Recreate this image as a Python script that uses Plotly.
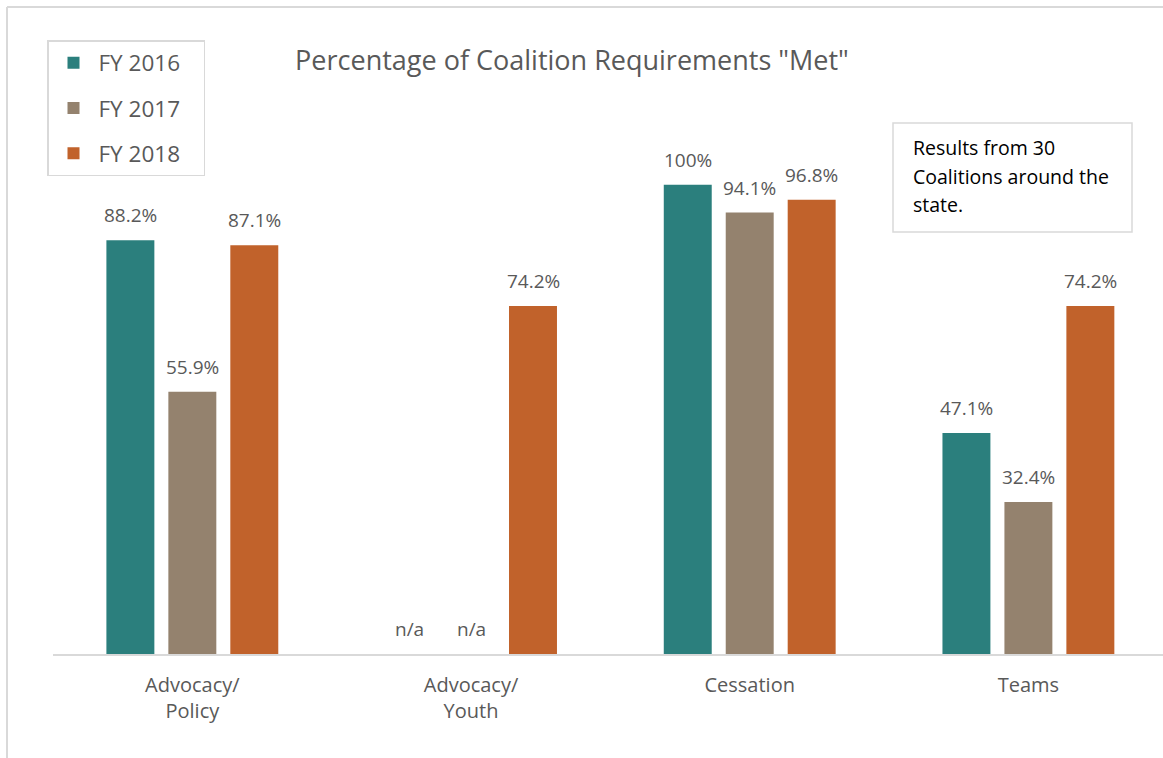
import plotly.graph_objects as go

categories = ["Advocacy/<br>Policy", "Advocacy/<br>Youth", "Cessation", "Teams"]
series_names = ["FY 2016", "FY 2017", "FY 2018"]
fy2016 = [88.2, 0, 100, 47.1]
fy2017 = [55.9, 0, 94.1, 32.4]
fy2018 = [87.1, 74.2, 96.8, 74.2]
labels2016 = ["88.2%", "n/a", "100%", "47.1%"]
labels2017 = ["55.9%", "n/a", "94.1%", "32.4%"]
labels2018 = ["87.1%", "74.2%", "96.8%", "74.2%"]
colors = ["#2B7F7D", "#94826E", "#C1622B"]

FONT = "Open Sans"
GREY = "#595959"
values = [fy2016, fy2017, fy2018]
labels = [labels2016, labels2017, labels2018]

fig = go.Figure()
for i, (name, vals) in enumerate(zip(series_names, values)):
    fig.add_trace(go.Bar(
        x=categories, y=vals, name=name + "\u00a0" * 3, marker_color=colors[i],
        marker_line_width=0, legendgroup=name, hoverinfo="skip",
    ))

annotations = []
for i, (vals, labs) in enumerate(zip(values, labels)):
    for c, v, t in zip(categories, vals, labs):
        annotations.append(dict(
            x=c, y=v, xref="x", yref="y", text=t, showarrow=False,
            xshift=(i - 1) * 62, yshift=25, yanchor="middle",
            font=dict(family=FONT, size=19, color=GREY),
        ))

W, H = 1163, 758
L, R, T, B = 53, 0, 91, 104
pw, ph = W - L - R, H - T - B

def px(x):
    return (x - L) / pw

def py(y):
    return (H - B - y) / ph

# note box
box_lines = ["Results from 30", "Coalitions around the", "state."]
for yy, line in zip([147, 176, 205], box_lines):
    annotations.append(dict(
        x=px(911), y=py(yy), xref="paper", yref="paper", text=line,
        showarrow=False, xanchor="left", yanchor="middle",
        font=dict(family=FONT, size=19.5, color="#000000"),
    ))

shapes = [
    dict(type="rect", xref="paper", yref="paper", x0=px(893), x1=px(1132),
         y0=py(232), y1=py(123), line=dict(color="#d9d9d9", width=1.5),
         fillcolor="rgba(0,0,0,0)"),
    dict(type="line", xref="paper", yref="paper", x0=px(7), x1=px(7),
         y0=py(7), y1=py(H), line=dict(color="#d9d9d9", width=2)),
    dict(type="line", xref="paper", yref="paper", x0=px(7), x1=px(W),
         y0=py(7), y1=py(7), line=dict(color="#d9d9d9", width=2)),
]

fig.update_layout(
    width=W, height=H,
    margin=dict(l=L, r=R, t=T, b=B, pad=0),
    paper_bgcolor="white", plot_bgcolor="white",
    barmode="group", bargap=0.333, bargroupgap=0.226,
    title=dict(text='Percentage of Coalition Requirements "Met"',
               x=572 / W, xref="container", xanchor="center",
               y=1 - 61 / H, yref="container", yanchor="middle",
               font=dict(family=FONT, size=27, color=GREY)),
    legend=dict(x=px(47), y=py(40), xanchor="left", yanchor="top",
                bordercolor="#d9d9d9", borderwidth=1.5,
                font=dict(family=FONT, size=22.5, color=GREY),
                tracegroupgap=13, traceorder="grouped", itemwidth=40),
    xaxis=dict(range=[-0.5, 3.483], showline=True, linecolor="#d9d9d9",
               linewidth=1.5, ticks="", showgrid=False, ticklabelstandoff=12,
               tickfont=dict(family=FONT, size=20, color=GREY)),
    yaxis=dict(range=[0, 120], visible=False, showgrid=False, zeroline=False),
    annotations=annotations, shapes=shapes,
    font=dict(family=FONT),
)

fig.write_html("out.html")
